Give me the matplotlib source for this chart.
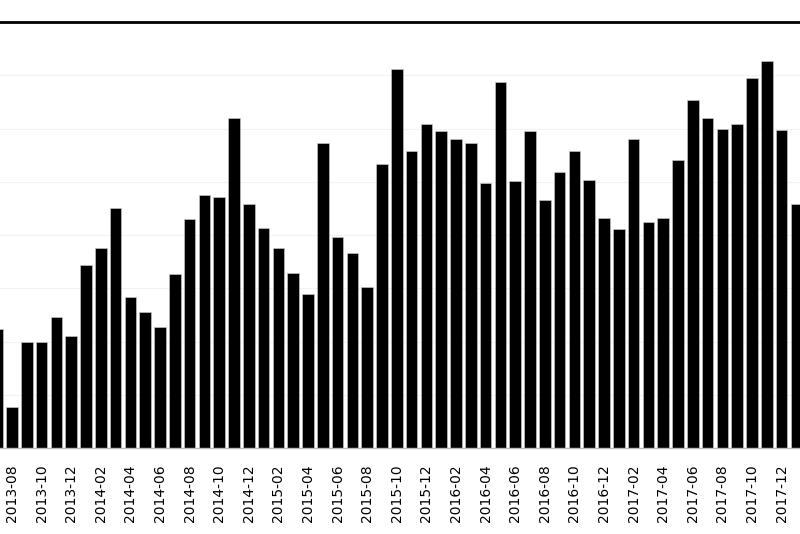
import numpy as np
import pandas as pd
import matplotlib
matplotlib.use("Agg")
import matplotlib.pyplot as plt

# Monthly values, 2013-07 .. 2018-01 (gridline = 1 unit)
months = pd.period_range("2013-07", "2018-01", freq="M").strftime("%Y-%m").tolist()
values = [
    2.23, 0.77, 2.00, 2.00, 2.46, 2.10,              # 2013-07 .. 2013-12
    3.43, 3.75, 4.51, 2.84, 2.56, 2.28,              # 2014-01 .. 2014-06
    3.26, 4.30, 4.75, 4.71, 6.20, 4.58,              # 2014-07 .. 2014-12
    4.13, 3.75, 3.28, 2.90, 5.72, 3.97,              # 2015-01 .. 2015-06
    3.67, 3.03, 5.33, 7.12, 5.57, 6.09,              # 2015-07 .. 2015-12
    5.96, 5.80, 5.72, 4.97, 6.87, 5.02,              # 2016-01 .. 2016-06
    5.96, 4.65, 5.19, 5.57, 5.04, 4.31,              # 2016-07 .. 2016-12
    4.12, 5.81, 4.25, 4.31, 5.40, 6.53,              # 2017-01 .. 2017-06
    6.20, 6.00, 6.09, 6.95, 7.27, 5.98,              # 2017-07 .. 2017-12
    4.58,                                            # 2018-01
]

x = np.arange(len(months))

fig = plt.figure(figsize=(8, 5.34), dpi=100)
# the picture is a crop: the axes run past the left and right edges
ax = fig.add_axes([0, 86 / 534, 1, (448 - 22) / 534])

ax.bar(x, values, width=0.78, color="black", edgecolor="#d0d0d0", linewidth=0.4, zorder=2)

ax.set_xlim(0.19, 54.24)
ax.set_ylim(0, 8)
ax.set_yticks(np.arange(0, 9))
ax.yaxis.grid(True, color="#f2f2f2", linewidth=0.8, zorder=0)
ax.tick_params(axis="y", left=False, labelleft=False)

ax.set_xticks(x[1::2])
ax.set_xticklabels(months[1::2], rotation=90, fontsize=10)
ax.tick_params(axis="x", length=0, pad=12)

for side in ["left", "right"]:
    ax.spines[side].set_visible(False)
ax.spines["top"].set_color("black")
ax.spines["top"].set_linewidth(2)
ax.spines["bottom"].set_color("#bbbbbb")
ax.spines["bottom"].set_linewidth(1)

fig.savefig("out.png", dpi=100)
